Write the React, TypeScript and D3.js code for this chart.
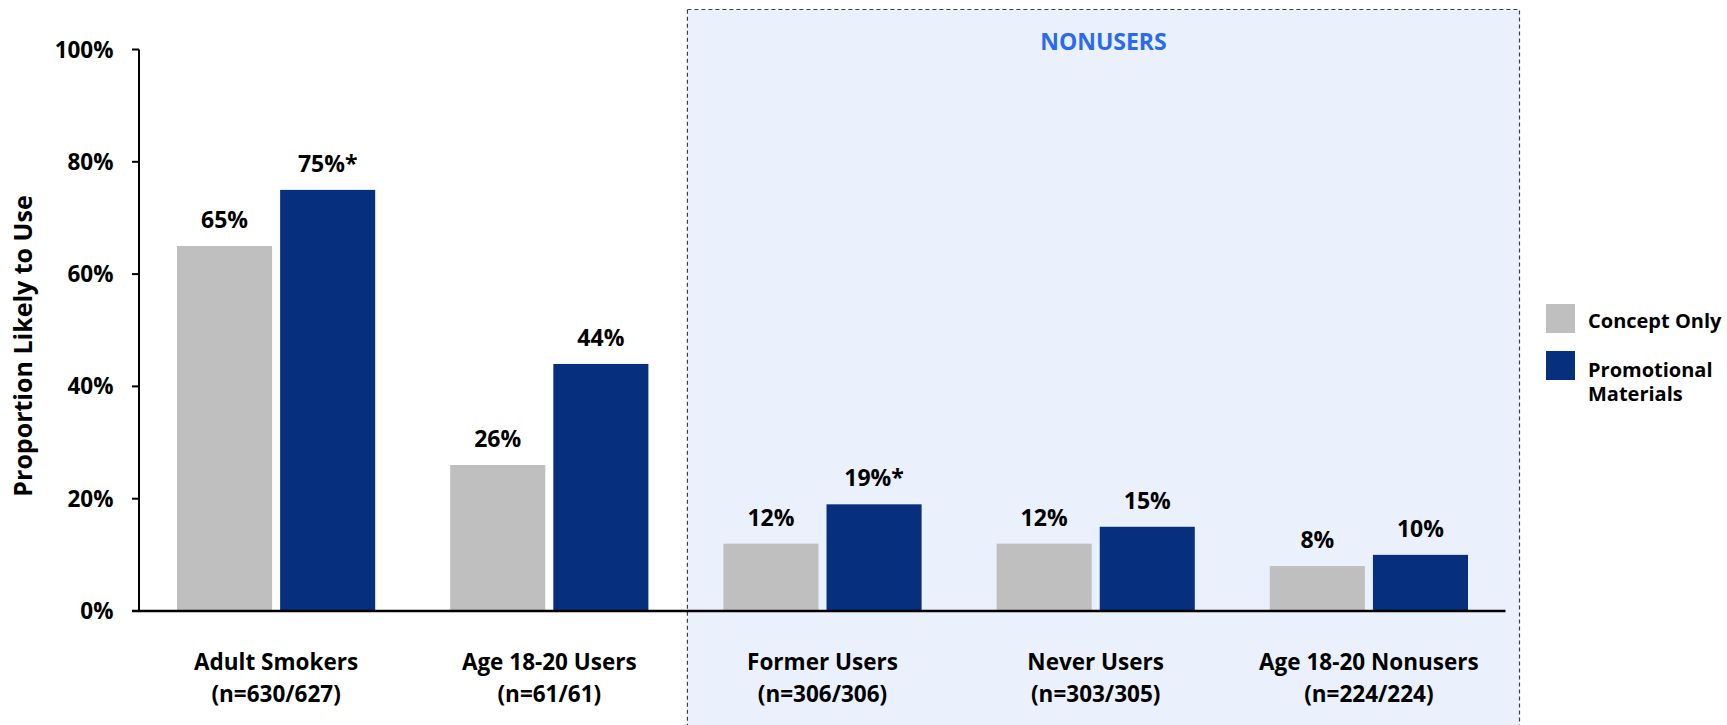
import React from "react";
import * as d3 from "d3";

const categories = ["Adult Smokers", "Age 18-20 Users", "Former Users", "Never Users", "Age 18-20 Nonusers"];
const sampleSizes = ["(n=630/627)", "(n=61/61)", "(n=306/306)", "(n=303/305)", "(n=224/224)"];
const seriesNames = ["Concept Only", "Promotional Materials"];
const conceptOnly = [65, 26, 12, 12, 8];
const promotional = [75, 44, 19, 15, 10];
const promotionalSig = [true, false, true, false, false];
const yTicks = [0, 20, 40, 60, 80, 100];
const nonusersCategories = ["Former Users", "Never Users", "Age 18-20 Nonusers"];

const W = 1727;
const H = 725;
const FONT = "'Open Sans', 'Noto Sans', sans-serif";
const GRAY = "#BFBFBF";
const BLUE = "#06307E";

export default function App() {
  const x0 = d3.scaleBand<string>().domain(categories).range([139.5, 1505.5]).padding(0);
  const step = x0.bandwidth();
  const x1 = d3
    .scaleBand<string>()
    .domain(seriesNames)
    .range([37.5, step - 37.5])
    .paddingInner(0.078)
    .paddingOuter(0);
  const y = d3.scaleLinear().domain([0, 100]).range([611, 49.5]);
  const color = d3.scaleOrdinal<string, string>().domain(seriesNames).range([GRAY, BLUE]);

  const rows = categories.map((c, i) => ({
    cat: c,
    n: sampleSizes[i],
    vals: [
      { s: seriesNames[0], v: conceptOnly[i], label: `${conceptOnly[i]}%` },
      { s: seriesNames[1], v: promotional[i], label: `${promotional[i]}%${promotionalSig[i] ? "*" : ""}` },
    ],
  }));

  const boxLeft = (x0(nonusersCategories[0]) as number) + 1.5;
  const boxRight = 1519.5;

  return (
    <svg
      width={W}
      height={H}
      style={{ position: "absolute", left: 0, top: 0, background: "#fff" }}
      fontFamily={FONT}
    >
      <rect
        x={boxLeft}
        y={9.5}
        width={boxRight - boxLeft}
        height={H + 20}
        fill="#EAF1FD"
        stroke="#404040"
        strokeWidth={1.2}
        strokeDasharray="4,3"
      />
      <text
        x={(boxLeft + boxRight) / 2}
        y={50}
        textAnchor="middle"
        fontSize={23}
        fontWeight={700}
        fill="#2A6AF0"
      >
        NONUSERS
      </text>

      {rows.map((r) => (
        <g key={r.cat} transform={`translate(${x0(r.cat)},0)`}>
          {r.vals.map((d) => (
            <g key={d.s}>
              <rect
                x={x1(d.s)}
                y={y(d.v)}
                width={x1.bandwidth()}
                height={y(0) - y(d.v)}
                fill={color(d.s)}
              />
              <text
                x={(x1(d.s) as number) + x1.bandwidth() / 2}
                y={y(d.v) - 18}
                textAnchor="middle"
                fontSize={23}
                fontWeight={700}
                fill="#000"
              >
                {d.label}
              </text>
            </g>
          ))}
          <text x={step / 2} y={670} textAnchor="middle" fontSize={22.5} fontWeight={700} fill="#000">
            {r.cat}
          </text>
          <text x={step / 2} y={701.5} textAnchor="middle" fontSize={22.5} fontWeight={700} fill="#000">
            {r.n}
          </text>
        </g>
      ))}

      {/* y axis */}
      <line x1={139} x2={139} y1={y(100)} y2={y(0)} stroke="#000" strokeWidth={2} />
      {yTicks.map((t) => (
        <g key={t}>
          <line x1={132} x2={139} y1={y(t)} y2={y(t)} stroke="#000" strokeWidth={2} />
          <text x={113.5} y={y(t) + 8} textAnchor="end" fontSize={22.5} fontWeight={700} fill="#000">
            {`${t}%`}
          </text>
        </g>
      ))}
      {/* x axis baseline */}
      <line x1={132} x2={1505.5} y1={y(0)} y2={y(0)} stroke="#000" strokeWidth={2.5} />

      <text
        transform={`translate(32,346) rotate(-90)`}
        textAnchor="middle"
        fontSize={25}
        fontWeight={700}
        fill="#000"
      >
        Proportion Likely to Use
      </text>

      {/* legend */}
      {seriesNames.map((s, i) => (
        <rect key={s} x={1546} y={304 + i * 47} width={29} height={29} fill={color(s)} />
      ))}
      <text x={1588} y={327.7} fontSize={20} fontWeight={700} fill="#000">
        Concept Only
      </text>
      <text x={1588} y={376.7} fontSize={20} fontWeight={700} fill="#000">
        Promotional
      </text>
      <text x={1588} y={400.7} fontSize={20} fontWeight={700} fill="#000">
        Materials
      </text>
    </svg>
  );
}
